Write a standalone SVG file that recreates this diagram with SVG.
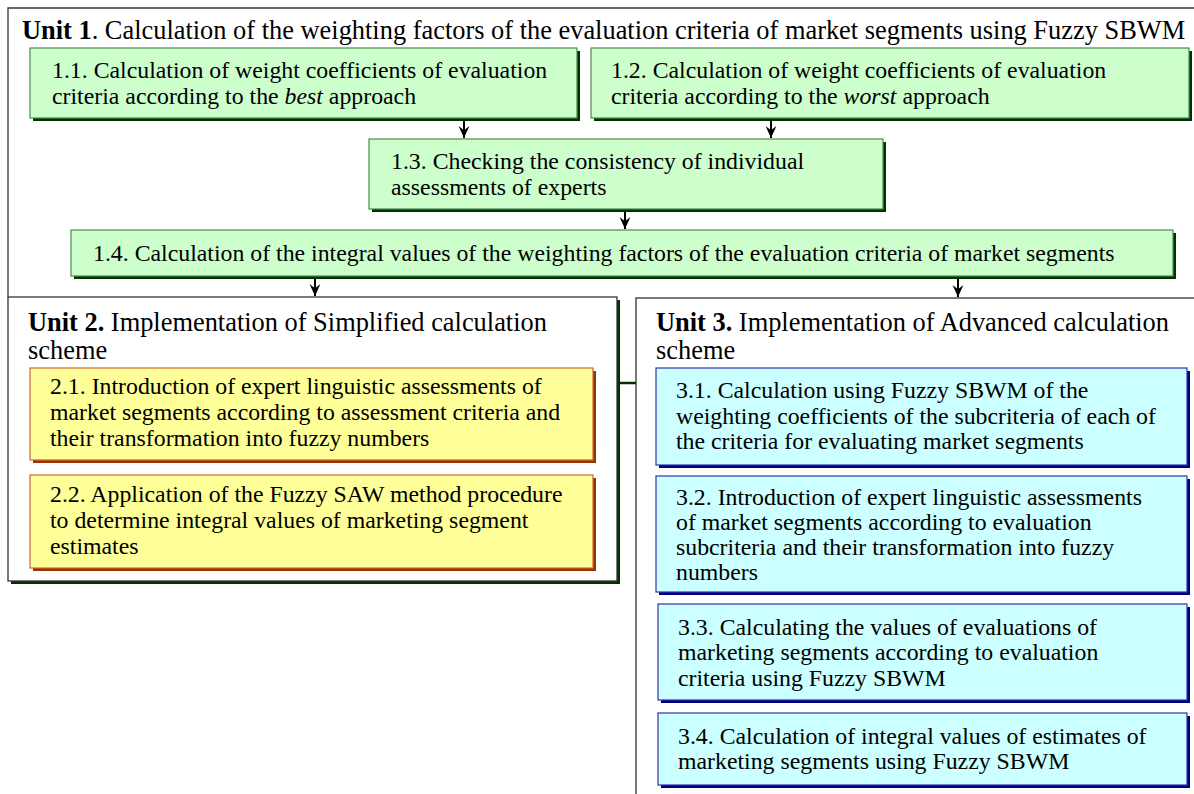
<svg xmlns="http://www.w3.org/2000/svg" width="1194" height="794" viewBox="0 0 1194 794">
<style>
text{font-family:'Liberation Serif','Times New Roman',serif;font-size:23.8px;fill:#000}
.h{font-size:26.4px}
.b{font-weight:bold}
.i{font-style:italic}
.unit{fill:#fff;stroke:#333;stroke-width:1.3}
.ush{fill:#003300}
.g{fill:#ccffcc;stroke:#4d8a4d;stroke-width:1.2}
.gs{fill:#003300}
.y{fill:#ffff99;stroke:#cc6633;stroke-width:1.2}
.ys{fill:#993300}
.c{fill:#ccffff;stroke:#3333aa;stroke-width:1.2}
.cs{fill:#000080}
.ar{stroke:#000;stroke-width:2;fill:none;marker-end:url(#ah)}
</style>
<defs>
<marker id="ah" viewBox="0 0 10 10" refX="10" refY="5" markerWidth="12" markerHeight="12" orient="auto" markerUnits="userSpaceOnUse">
<path d="M0,0.5 L10,5 L0,9.5 L3.5,5 z" fill="#000"/>
</marker>
</defs>
<rect width="1194" height="794" fill="#fff"/>
<g font-family="Liberation Serif, Times New Roman, serif">

<g id="unit1">
<path d="M8,297 L8,8 L1200,8" fill="none" stroke="#333" stroke-width="1.3"/>
<text class="h" x="22" y="39"><tspan class="b">Unit 1</tspan>. Calculation of the weighting factors of the evaluation criteria of market segments using Fuzzy SBWM</text>
</g>

<g id="n11">
<rect class="gs" x="33" y="51" width="547" height="70"/>
<rect class="g" x="30" y="48" width="547" height="70"/>
<text x="52" y="78">1.1. Calculation of weight coefficients of evaluation</text>
<text x="52" y="104">criteria according to the <tspan class="i">best</tspan> approach</text>
</g>

<g id="n12">
<rect class="gs" x="594" y="51" width="598" height="70"/>
<rect class="g" x="591" y="48" width="598" height="70"/>
<text x="611" y="78">1.2. Calculation of weight coefficients of evaluation</text>
<text x="611" y="104">criteria according to the <tspan class="i">worst</tspan> approach</text>
</g>

<g id="n13">
<rect class="gs" x="372" y="142" width="514" height="70"/>
<rect class="g" x="369" y="139" width="514" height="70"/>
<text x="391" y="169">1.3. Checking the consistency of individual</text>
<text x="391" y="195">assessments of experts</text>
</g>

<g id="n14">
<rect class="gs" x="74" y="233" width="1102" height="46"/>
<rect class="g" x="71" y="230" width="1102" height="46"/>
<text x="93" y="261">1.4. Calculation of the integral values of the weighting factors of the evaluation criteria of market segments</text>
</g>

<g id="unit3">
<rect class="unit" x="636" y="298" width="600" height="600"/>
<text class="h" x="656" y="331"><tspan class="b">Unit 3.</tspan> Implementation of Advanced calculation</text>
<text class="h" x="656" y="359">scheme</text>
</g>

<g id="connectors">
<line class="ar" x1="464" y1="121" x2="464" y2="138"/>
<line class="ar" x1="771" y1="121" x2="771" y2="138"/>
<line class="ar" x1="625" y1="212" x2="625" y2="229"/>
<line class="ar" x1="315" y1="279" x2="315" y2="296"/>
<line class="ar" x1="958" y1="279" x2="958" y2="297"/>
<line x1="618" y1="383" x2="636" y2="383" stroke="#003300" stroke-width="2.5"/>
</g>

<g id="unit2">
<rect class="ush" x="11" y="300" width="609" height="284"/>
<rect class="unit" x="8" y="297" width="609" height="284"/>
<text class="h" x="28" y="331"><tspan class="b">Unit 2.</tspan> Implementation of Simplified calculation</text>
<text class="h" x="28" y="359">scheme</text>
</g>

<g id="n21">
<rect class="ys" x="33" y="371" width="563" height="92"/>
<rect class="y" x="30" y="368" width="563" height="92"/>
<text x="50" y="394">2.1. Introduction of expert linguistic assessments of</text>
<text x="50" y="420">market segments according to assessment criteria and</text>
<text x="50" y="446">their transformation into fuzzy numbers</text>
</g>

<g id="n22">
<rect class="ys" x="33" y="478" width="563" height="93"/>
<rect class="y" x="30" y="475" width="563" height="93"/>
<text x="50" y="502">2.2. Application of the Fuzzy SAW method procedure</text>
<text x="50" y="528">to determine integral values of marketing segment</text>
<text x="50" y="554">estimates</text>
</g>

<g id="n31">
<rect class="cs" x="659" y="371" width="531" height="97"/>
<rect class="c" x="656" y="368" width="531" height="97"/>
<text x="676" y="398">3.1. Calculation using Fuzzy SBWM of the</text>
<text x="676" y="424">weighting coefficients of the subcriteria of each of</text>
<text x="676" y="449">the criteria for evaluating market segments</text>
</g>

<g id="n32">
<rect class="cs" x="659" y="479" width="531" height="116"/>
<rect class="c" x="656" y="476" width="531" height="116"/>
<text x="676" y="505">3.2. Introduction of expert linguistic assessments</text>
<text x="676" y="530">of market segments according to evaluation</text>
<text x="676" y="555">subcriteria and their transformation into fuzzy</text>
<text x="676" y="580">numbers</text>
</g>

<g id="n33">
<rect class="cs" x="661" y="607" width="529" height="96"/>
<rect class="c" x="658" y="604" width="529" height="96"/>
<text x="678" y="635">3.3. Calculating the values of evaluations of</text>
<text x="678" y="660">marketing segments according to evaluation</text>
<text x="678" y="686">criteria using Fuzzy SBWM</text>
</g>

<g id="n34">
<rect class="cs" x="661" y="716" width="529" height="72"/>
<rect class="c" x="658" y="713" width="529" height="72"/>
<text x="678" y="744">3.4. Calculation of integral values of estimates of</text>
<text x="678" y="769">marketing segments using Fuzzy SBWM</text>
</g>
</g>
</svg>
